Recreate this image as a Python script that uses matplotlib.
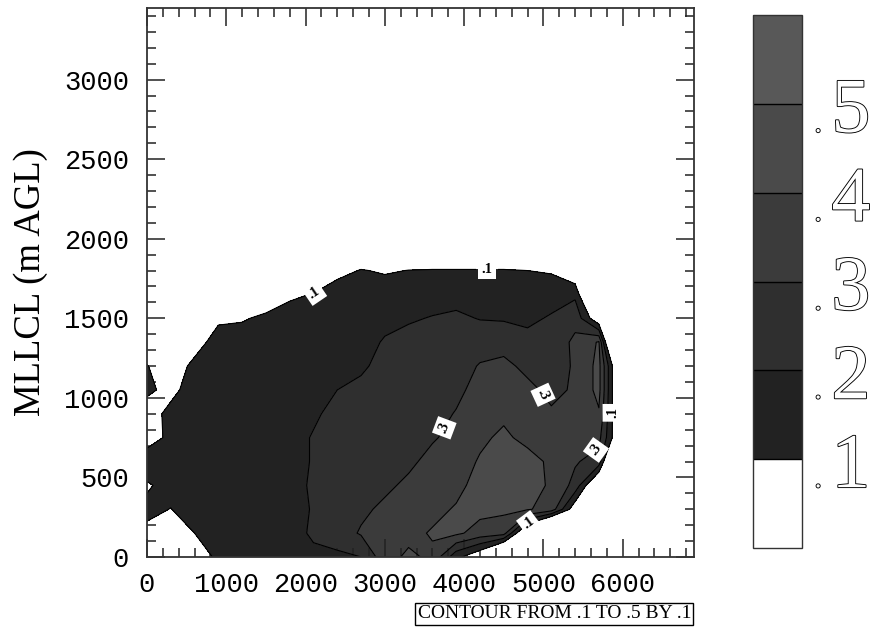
import matplotlib
matplotlib.use("Agg")
import matplotlib.pyplot as plt
import matplotlib.patheffects as pe
import numpy as np

# grid (x every 300 m, y every 150 m)
x_m = [0, 300, 600, 900, 1200, 1500, 1800, 2100, 2400, 2700, 3000,
       3300, 3600, 3900, 4200, 4500, 4800, 5100, 5400, 5700, 6000, 6300]
y_m = [0, 150, 300, 450, 600, 750, 900, 1050, 1200, 1350, 1500, 1650, 1800, 1950]

prob = [
    [0.0, 0.0, 0.04, 0.12, 0.15, 0.15, 0.15, 0.17, 0.18, 0.20, 0.36, 0.42, 0.38, 0.13, 0.0, -0.3, -0.6, -0.8, -1.0, -1.0, -1.0, -1.0],
    [0.08, 0.07, 0.10, 0.13, 0.15, 0.15, 0.15, 0.22, 0.25, 0.31, 0.34, 0.37, 0.41, 0.42, 0.36, 0.34, -0.1, -0.5, -1.0, -1.0, -1.0, -1.0],
    [0.12, 0.098, 0.14, 0.15, 0.15, 0.15, 0.15, 0.21, 0.25, 0.28, 0.32, 0.35, 0.37, 0.41, 0.43, 0.42, 0.41, 0.36, 0.02, -1.0, -1.0, -1.0],
    [0.09, 0.13, 0.15, 0.15, 0.15, 0.15, 0.15, 0.22, 0.25, 0.27, 0.28, 0.32, 0.35, 0.37, 0.44, 0.46, 0.46, 0.38, 0.27, -0.1, -1.0, -1.0],
    [0.15, 0.14, 0.15, 0.15, 0.15, 0.15, 0.15, 0.21, 0.25, 0.27, 0.27, 0.28, 0.33, 0.35, 0.41, 0.46, 0.44, 0.38, 0.31, 0.26, -0.54, -1.0],
    [0.06, 0.12, 0.15, 0.15, 0.15, 0.15, 0.15, 0.21, 0.25, 0.26, 0.27, 0.27, 0.29, 0.33, 0.38, 0.42, 0.37, 0.35, 0.34, 0.33, -0.08, -1.0],
    [0.05, 0.13, 0.15, 0.15, 0.15, 0.15, 0.15, 0.18, 0.24, 0.25, 0.26, 0.27, 0.27, 0.305, 0.35, 0.38, 0.34, 0.31, 0.35, 0.39, -0.12, -1.0],
    [0.12, 0.07, 0.15, 0.15, 0.15, 0.15, 0.15, 0.16, 0.20, 0.23, 0.26, 0.26, 0.27, 0.28, 0.33, 0.35, 0.32, 0.28, 0.31, 0.43, -0.15, -1.0],
    [0.105, 0.03, 0.13, 0.15, 0.15, 0.15, 0.15, 0.15, 0.16, 0.18, 0.24, 0.25, 0.26, 0.27, 0.305, 0.32, 0.28, 0.26, 0.31, 0.43, -0.15, -1.0],
    [0.0, 0.0, 0.05, 0.15, 0.15, 0.15, 0.15, 0.15, 0.15, 0.16, 0.21, 0.23, 0.25, 0.26, 0.27, 0.27, 0.23, 0.24, 0.32, 0.41, -0.7, -1.0],
    [0.0, 0.0, 0.0, 0.08, 0.09, 0.12, 0.15, 0.15, 0.15, 0.15, 0.17, 0.19, 0.205, 0.22, 0.195, 0.19, 0.18, 0.21, 0.27, 0.0, -1.0, -1.0],
    [0.0, 0.0, 0.0, 0.0, 0.0, 0.03, 0.08, 0.105, 0.15, 0.15, 0.15, 0.15, 0.16, 0.16, 0.16, 0.15, 0.15, 0.16, 0.18, -0.3, -1.0, -1.0],
    [0.0, 0.0, 0.0, 0.0, 0.0, 0.0, 0.0, 0.0, 0.07, 0.105, 0.09, 0.102, 0.105, 0.105, 0.105, 0.105, 0.10, 0.09, 0.0, -0.3, -1.0, -1.0],
    [0.0, 0.0, 0.0, 0.0, 0.0, 0.0, 0.0, 0.0, 0.0, 0.0, 0.0, 0.0, 0.0, 0.0, 0.0, 0.0, 0.0, 0.0, 0.0, 0.0, 0.0, 0.0],
]

fill_levels = [-2.0, 0.1, 0.2, 0.3, 0.4, 0.5, 0.6]
shades = ["#ffffff", "#222222", "#2f2f2f", "#3b3b3b", "#4a4a4a", "#585858"]
plain_levels = [0.2, 0.4, 0.5]
bar_labels = [".1", ".2", ".3", ".4", ".5"]
x_ticks = [0, 1000, 2000, 3000, 4000, 5000, 6000]
y_ticks = [0, 500, 1000, 1500, 2000, 2500, 3000]

# where the inline contour labels sit
spots_01 = [(2130, 1654), (4290, 1820), (5864, 906), (4805, 220)]
spots_03 = [(3758, 811), (4993, 1019), (5712, 660)]

W, H = 877, 629
fig = plt.figure(figsize=(W / 100, H / 100), dpi=100)
ax = fig.add_axes([147 / W, 72 / H, 547 / W, 549 / H])

Z = np.array(prob)
cf = ax.contourf(x_m, y_m, Z, levels=fill_levels, colors=shades)
ax.contour(x_m, y_m, Z, levels=plain_levels, colors="black", linewidths=0.8)
cs1 = ax.contour(x_m, y_m, Z, levels=[0.1], colors="black", linewidths=0.8)
cs3 = ax.contour(x_m, y_m, Z, levels=[0.3], colors="black", linewidths=0.8)


def fmt(v):
    return f"{v:.1f}".lstrip("0")


labels = []
labels += cs1.clabel(manual=spots_01, fmt=fmt, fontsize=10.5, inline=True,
                     inline_spacing=5)
labels += cs3.clabel(manual=spots_03, fmt=fmt, fontsize=10.5, inline=True,
                     inline_spacing=5)
for t in labels:
    t.set_color("black")
    t.set_fontweight("bold")
    t.set_fontfamily("Liberation Serif")
    t.set_bbox(dict(facecolor="white", edgecolor="none", pad=2.4))

ax.set_xlim(0, 6900)
ax.set_ylim(0, 3450)
ax.set_xticks(x_ticks, labels=[str(v) for v in x_ticks],
              fontfamily="Liberation Mono", fontsize=19.5)
ax.set_yticks(y_ticks, labels=[str(v) for v in y_ticks],
              fontfamily="Liberation Mono", fontsize=19.5)
ax.set_xticks(np.arange(0, 6901, 200), minor=True)
ax.set_yticks(np.arange(0, 3451, 100), minor=True)
ax.tick_params(which="both", direction="in", top=True, right=True,
               color="#222222", width=1.1)
ax.tick_params(which="major", length=13)
ax.tick_params(which="minor", length=6.5)
ax.tick_params(axis="y", pad=13)
ax.tick_params(axis="x", pad=11)
for s in ax.spines.values():
    s.set_linewidth(1.3)
    s.set_color("#333333")

ax.set_ylabel("MLLCL (m AGL)", fontsize=26.5, fontfamily="Liberation Serif")
ax.yaxis.set_label_coords(-0.181, 0.5)

fig.text(691 / W, 1 - 614 / H, "CONTOUR FROM .1 TO .5 BY .1", ha="right",
         va="center", fontfamily="Liberation Serif", fontsize=14,
         bbox=dict(boxstyle="square,pad=0.12", facecolor="white",
                   edgecolor="black", linewidth=1))

# --- colour bar ---
cax = fig.add_axes([753 / W, 81 / H, 49 / W, 533 / H])
cb = fig.colorbar(cf, cax=cax, spacing="uniform", drawedges=True)
cb.set_ticks([])
cax.minorticks_off()
cb.outline.set_linewidth(1.0)
cb.outline.set_edgecolor("#333333")
cb.dividers.set_color("black")
cb.dividers.set_linewidth(1.0)
n_box = len(shades)
outline = [pe.withStroke(linewidth=1.3, foreground="black")]
for i, lab in enumerate(bar_labels):
    base = (i + 1) / n_box - 0.0525
    cax.text(1.33, base, lab[0], transform=cax.transAxes, ha="center",
             va="baseline", fontsize=20, fontfamily="Liberation Serif",
             color="white", path_effects=outline)
    cax.text(1.6, base, lab[1:], transform=cax.transAxes, ha="left",
             va="baseline", fontsize=56, fontfamily="Liberation Serif",
             color="white", path_effects=outline)

fig.savefig("out.png", dpi=100)
